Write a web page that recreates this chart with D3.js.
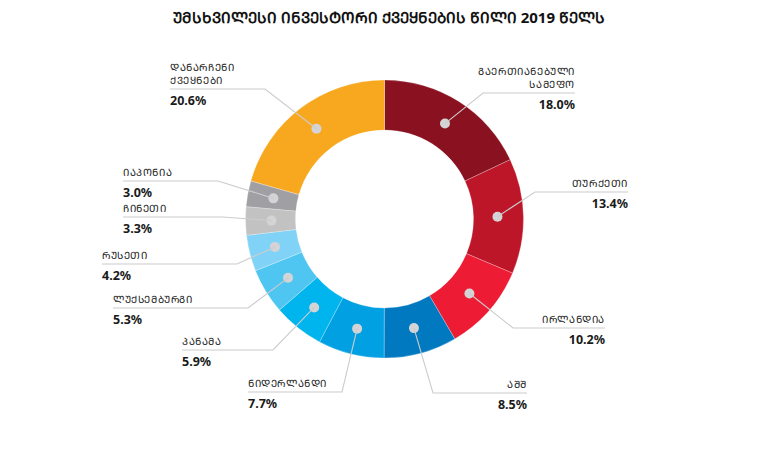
<!DOCTYPE html>
<html>
<head>
<meta charset="utf-8">
<script src="https://cdn.jsdelivr.net/npm/d3@7"></script>
<style>
  body { margin: 0; background: #fff; }
  text { font-family: "Noto Sans", "DejaVu Sans", sans-serif; }
</style>
</head>
<body>
<div id="chart"></div>
<script>
// Data
const countries = [
  'გაერთიანებული სამეფო', 'თურქეთი', 'ირლანდია', 'აშშ', 'ნიდერლანდი',
  'პანამა', 'ლუქსემბურგი', 'რუსეთი', 'ჩინეთი', 'იაპონია', 'დანარჩენი ქვეყნები'
];
const shares = [18.0, 13.4, 10.2, 8.5, 7.7, 5.9, 5.3, 4.2, 3.3, 3.0, 20.6];
const colors = [
  '#8a1220', '#be1629', '#ed1c34', '#0079c1', '#00a0e3',
  '#00b4ee', '#4fc6f2', '#80d3f6', '#c2c2c2', '#a0a0a4', '#f8a81f'
];
// name split into lines for labels
const nameLines = [
  ['გაერთიანებული', 'სამეფო'], ['თურქეთი'], ['ირლანდია'], ['აშშ'], ['ნიდერლანდი'],
  ['პანამა'], ['ლუქსემბურგი'], ['რუსეთი'], ['ჩინეთი'], ['იაპონია'], ['დანარჩენი', 'ქვეყნები']
];
const title = 'უმსხვილესი ინვესტორი ქვეყნების წილი 2019 წელს';

// Label layout: elbow of leader line and far end of horizontal rule
const labelLayout = [
  { ex: 483, ey: 93,  end: 575 },
  { ex: 535, ey: 192, end: 628 },
  { ex: 513, ey: 328, end: 605 },
  { ex: 433, ey: 393, end: 527 },
  { ex: 342, ey: 392, end: 248 },
  { ex: 273, ey: 350, end: 182 },
  { ex: 248, ey: 308, end: 113 },
  { ex: 237, ey: 264, end: 102 },
  { ex: 223, ey: 217, end: 123 },
  { ex: 218, ey: 181, end: 123 },
  { ex: 265, ey: 89,  end: 170 }
];

// the picture sets Georgian in capitals (Mtavruli)
const caps = s => s.replace(/[\u10D0-\u10FA]/g, c => String.fromCharCode(c.charCodeAt(0) + 0xBC0));

const width = 779, height = 470;
const cx = 384.5, cy = 219;
const outerR = 139, innerR = 89;

const svg = d3.select('#chart').append('svg')
  .attr('width', width)
  .attr('height', height);

// Title
svg.append('text')
  .attr('x', 389)
  .attr('y', 23)
  .attr('text-anchor', 'middle')
  .attr('font-size', 15)
  .attr('font-weight', 'bold')
  .attr('fill', '#111')
  .text(caps(title));

const data = shares.map((v, i) => ({
  name: countries[i], value: v, color: colors[i], lines: nameLines[i], layout: labelLayout[i]
}));

const pie = d3.pie().sort(null).value(d => d.value);
const arc = d3.arc().innerRadius(innerR).outerRadius(outerR);
const dotArc = d3.arc().innerRadius(113).outerRadius(113);

const g = svg.append('g').attr('transform', `translate(${cx},${cy})`);
const arcs = pie(data);

g.selectAll('path.slice')
  .data(arcs)
  .join('path')
  .attr('class', 'slice')
  .attr('d', arc)
  .attr('fill', d => d.data.color)
  .attr('stroke', '#fff')
  .attr('stroke-opacity', 0.5)
  .attr('stroke-width', 0.5);

// Leader lines and labels
const lineColor = '#cccccc';
const labels = svg.append('g').attr('class', 'labels');

arcs.forEach(a => {
  const [dx, dy] = dotArc.centroid(a);
  const px = cx + dx, py = cy + dy;
  const L = a.data.layout;
  const isRight = L.end > L.ex;

  labels.append('polyline')
    .attr('points', `${px},${py} ${L.ex},${L.ey} ${L.end},${L.ey}`)
    .attr('fill', 'none')
    .attr('stroke', lineColor)
    .attr('stroke-width', 1.1);

  const anchor = isRight ? 'end' : 'start';
  const n = a.data.lines.length;
  a.data.lines.forEach((t, k) => {
    labels.append('text')
      .attr('x', L.end)
      .attr('y', L.ey - 5 - (n - 1 - k) * 13)
      .attr('text-anchor', anchor)
      .attr('font-size', 10)
      .attr('letter-spacing', 0.6)
      .attr('fill', '#222')
      .text(caps(t));
  });

  labels.append('text')
    .attr('x', L.end)
    .attr('y', L.ey + 16)
    .attr('text-anchor', anchor)
    .attr('font-size', 12.5)
    .attr('font-weight', 'bold')
    .attr('fill', '#1a1a1a')
    .text(a.data.value.toFixed(1) + '%');

  // marker dot
  g.append('circle')
    .attr('cx', dx)
    .attr('cy', dy)
    .attr('r', 5)
    .attr('fill', '#d4d4d6');
});
</script>
</body>
</html>
